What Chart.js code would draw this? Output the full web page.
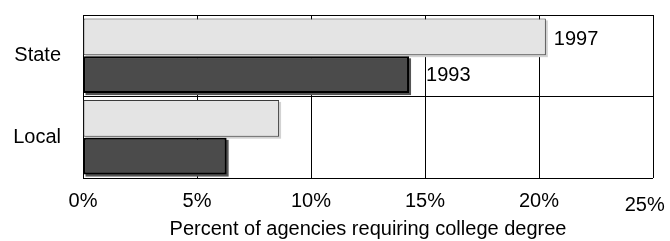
<!DOCTYPE html>
<html>
<head>
<meta charset="utf-8">
<script src="https://cdn.jsdelivr.net/npm/chart.js@4/dist/chart.umd.min.js"></script>
<style>
  html, body { margin: 0; padding: 0; background: #fff; }
  #wrap { width: 670px; height: 241px; }
</style>
</head>
<body>
<div id="wrap"><canvas id="grafico" width="670" height="241"></canvas></div>
<script>
const categories = ["State", "Local"];
const years = ["1997", "1993"];
const values1997 = [20.3, 8.6];
const values1993 = [14.3, 6.3];
const tickValues = [0, 5, 10, 15, 20, 25];

const fuente = "'Liberation Sans', Arial, sans-serif";

// sombra detras de cada barra
const shadowPlugin = {
  id: "shadow",
  beforeDatasetsDraw(chart) {
    const ctx = chart.ctx;
    chart.data.datasets.forEach((ds, i) => {
      const meta = chart.getDatasetMeta(i);
      meta.data.forEach(bar => {
        const p = bar.getProps(["x", "y", "base", "height"], true);
        const left = Math.min(p.base, p.x);
        const w = Math.abs(p.x - p.base);
        ctx.save();
        ctx.fillStyle = ds.shadowColor;
        ctx.fillRect(left + 2, p.y - p.height / 2 + 2, w, p.height);
        ctx.restore();
      });
    });
  }
};

// etiquetas de año solo en la primera categoria
const yearLabelPlugin = {
  id: "yearLabels",
  afterDatasetsDraw(chart) {
    const ctx = chart.ctx;
    chart.data.datasets.forEach((ds, i) => {
      const bar = chart.getDatasetMeta(i).data[0];
      const p = bar.getProps(["x", "y"], true);
      ctx.save();
      ctx.font = "20px " + fuente;
      ctx.fillStyle = "#000";
      ctx.textAlign = "left";
      ctx.textBaseline = "middle";
      ctx.fillText(ds.label, p.x + ds.labelGap, p.y + ds.labelDy);
      ctx.restore();
    });
  }
};

const lastTick = tickValues[tickValues.length - 1];

const ctx = document.getElementById("grafico").getContext("2d");
new Chart(ctx, {
  type: "bar",
  data: {
    labels: categories,
    datasets: [
      {
        label: years[0],
        data: values1997,
        backgroundColor: "#e4e4e4",
        borderColor: "#3a3a3a",
        borderWidth: 1,
        borderSkipped: false,
        shadowColor: "#d2d2d2",
        labelGap: 8,
        labelDy: 3,
        categoryPercentage: 0.93,
        barPercentage: 0.97
      },
      {
        label: years[1],
        data: values1993,
        backgroundColor: "#4b4b4b",
        borderColor: "#000",
        borderWidth: 2,
        borderSkipped: false,
        shadowColor: "#555",
        labelGap: 17,
        labelDy: 1,
        categoryPercentage: 0.93,
        barPercentage: 0.97
      }
    ]
  },
  options: {
    indexAxis: "y",
    responsive: false,
    animation: false,
    layout: { padding: { top: 15, right: 17, left: 0, bottom: 0 } },
    plugins: {
      legend: { display: false },
      tooltip: { enabled: false }
    },
    scales: {
      x: {
        min: 0,
        max: 25,
        afterBuildTicks: scale => {
          scale.ticks = tickValues.map(v => ({ value: v }));
        },
        afterFit: scale => {
          scale.height = 63;
          scale.paddingLeft = 0;
          scale.paddingRight = 0;
        },
        grid: { color: "#000", lineWidth: 1, drawTicks: false },
        border: { display: false },
        ticks: {
          padding: 11,
          color: "#000",
          // la ultima etiqueta queda mas abajo y a la izquierda, como en el original
          font: c => ({
            family: fuente,
            size: 20,
            lineHeight: c.tick && c.tick.value === lastTick ? 1.6 : 1.2
          }),
          callback: v => v === lastTick ? v + "%   " : v + "%"
        },
        title: {
          display: true,
          text: "Percent of agencies requiring college degree",
          color: "#000",
          font: { family: fuente, size: 20 },
          padding: { top: 2, bottom: 0 }
        }
      },
      y: {
        afterFit: scale => {
          scale.width = 83;
          scale.paddingTop = 0;
          scale.paddingBottom = 0;
        },
        grid: { color: "#000", lineWidth: 1, drawTicks: false, offset: true },
        border: { display: false },
        ticks: {
          padding: 22,
          color: "#000",
          font: { family: fuente, size: 20 }
        }
      }
    }
  },
  plugins: [shadowPlugin, yearLabelPlugin]
});
</script>
</body>
</html>
